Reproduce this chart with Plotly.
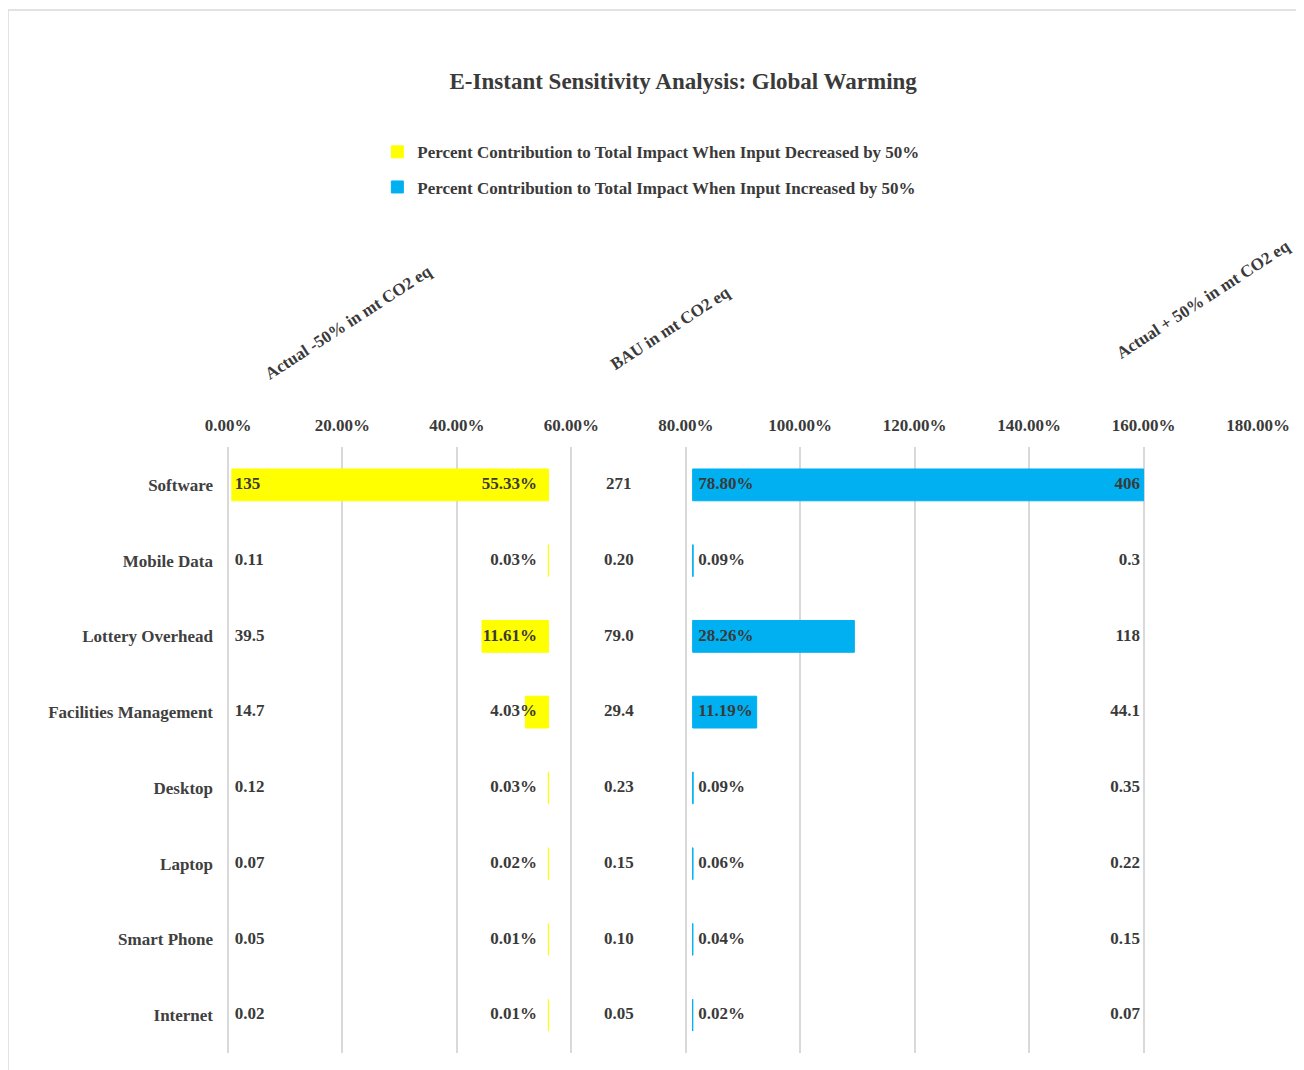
import plotly.graph_objects as go

# ---- data ----
categories = ["Software", "Mobile Data", "Lottery Overhead", "Facilities Management",
              "Desktop", "Laptop", "Smart Phone", "Internet"]
actual_minus = ["135", "0.11", "39.5", "14.7", "0.12", "0.07", "0.05", "0.02"]
pct_decreased = [55.33, 0.03, 11.61, 4.03, 0.03, 0.02, 0.01, 0.01]
bau = ["271", "0.20", "79.0", "29.4", "0.23", "0.15", "0.10", "0.05"]
pct_increased = [78.80, 0.09, 28.26, 11.19, 0.09, 0.06, 0.04, 0.02]
actual_plus = ["406", "0.3", "118", "44.1", "0.35", "0.22", "0.15", "0.07"]
tick_values = [0, 0.2, 0.4, 0.6, 0.8, 1.0, 1.2, 1.4, 1.6, 1.8]

# ---- style constants ----
FONT = "Liberation Serif, Times New Roman, serif"
TXT = "#3a3a3a"
YELLOW = "#FFFF00"
BLUE = "#00B0F0"
DEC_END = 0.56      # right edge of the "decreased" bars
INC_START = 0.812   # left edge of the "increased" bars
n = len(categories)

dec = [v / 100 for v in pct_decreased]
inc = [v / 100 for v in pct_increased]

fig = go.Figure()

fig.add_trace(go.Bar(
    name="Percent Contribution to Total Impact When Input Decreased by 50%",
    legendgroup="dec",
    y=categories, x=dec, base=[DEC_END - v for v in dec], orientation="h",
    marker=dict(color=YELLOW, line=dict(color=YELLOW, width=1)), width=0.42,
    hoverinfo="skip"))
fig.add_trace(go.Bar(
    name="Percent Contribution to Total Impact When Input Increased by 50%",
    legendgroup="inc",
    y=categories, x=inc, base=[INC_START] * n, orientation="h",
    marker=dict(color=BLUE, line=dict(color=BLUE, width=1)), width=0.42,
    hoverinfo="skip"))

tfont = dict(family=FONT, size=17, color=TXT, weight="bold")

def text_trace(xpos, texts, pos):
    fig.add_trace(go.Scatter(x=[xpos] * n, y=categories, text=texts, mode="text",
                             textposition=pos, textfont=tfont, showlegend=False,
                             hoverinfo="skip", cliponaxis=False))

text_trace(0.012, actual_minus, "middle right")
text_trace(0.54, [f"{v:.2f}%" for v in pct_decreased], "middle left")
text_trace(0.683, bau, "middle center")
text_trace(0.822, [f"{v:.2f}%" for v in pct_increased], "middle right")
text_trace(1.594, actual_plus, "middle left")

headers = [("Actual -50% in mt CO2 eq", 0.21, 1.206),
           ("BAU in mt CO2 eq", 0.772, 1.196),
           ("Actual + 50% in mt CO2 eq", 1.704, 1.243)]
annotations = [dict(text=t, x=x, y=y, xref="x", yref="paper", showarrow=False,
                    xanchor="center", yanchor="middle",
                    textangle=-33, font=dict(family=FONT, size=17, color=TXT, weight="bold"))
               for t, x, y in headers]

fig.update_layout(
    width=1296, height=1062,
    margin=dict(l=220, r=46, t=439, b=17),
    paper_bgcolor="white", plot_bgcolor="white",
    barmode="overlay",
    title=dict(text="E-Instant Sensitivity Analysis: Global Warming",
               x=0.521, y=1 - 73 / 1062, xanchor="center", yanchor="middle",
               font=dict(family=FONT, size=23, color=TXT, weight="bold")),
    legend=dict(x=0.145, y=1.516, xanchor="left", yanchor="top",
                font=dict(family=FONT, size=17, color=TXT, weight="bold"),
                bgcolor="rgba(0,0,0,0)", tracegroupgap=10, itemwidth=30),
    annotations=annotations,
    shapes=[dict(type="rect", xref="paper", yref="paper",
                 x0=-0.2136, x1=1.08, y0=-0.06, y1=1.721,
                 line=dict(color="#d9d9d9", width=1.5), layer="below")],
    xaxis=dict(side="top", range=[0, 1.8], tickvals=tick_values, tickformat=".2%",
               showgrid=True, gridcolor="#d9d9d9", gridwidth=1.5,
               zeroline=True, zerolinecolor="#d9d9d9", zerolinewidth=1.5,
               showline=False, ticks="", ticklabelstandoff=12,
               tickfont=dict(family=FONT, size=17, color=TXT, weight="bold")),
    yaxis=dict(autorange="reversed", showgrid=False, zeroline=False, showline=False,
               ticks="", ticklabelstandoff=14,
               tickfont=dict(family=FONT, size=17, color="#404040", weight="bold")),
)

fig.write_html("out.html")
